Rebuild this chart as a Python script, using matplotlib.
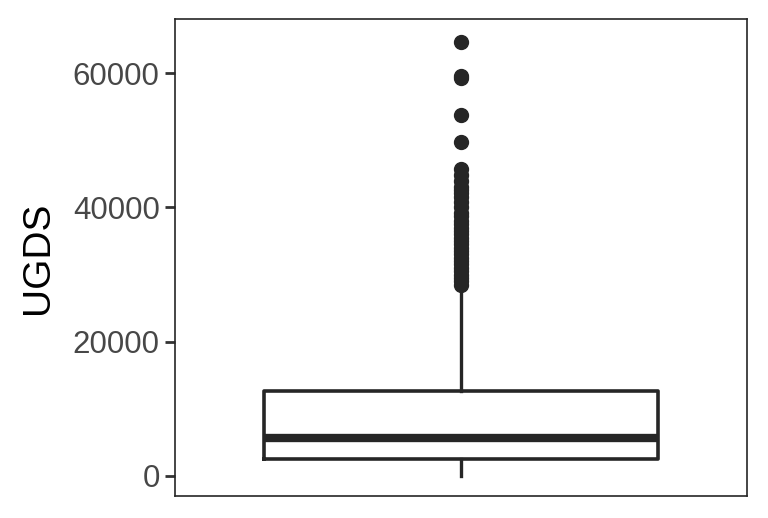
import matplotlib
matplotlib.use("Agg")
import matplotlib.pyplot as plt

# box statistics
q1 = 2530
median = 5660
q3 = 12660
whisker_low = 0
whisker_high = 28000
outliers = [64700, 59600, 59200, 53800, 49700, 45700, 44800, 44000, 43000,
            42600, 42200, 41500, 40800, 40000, 39200, 38700, 38000, 37500,
            37000, 36500, 36000, 35500, 35000, 34500, 34000, 33500, 33000,
            32500, 32000, 31500, 31000, 30500, 30000, 29500, 29000, 28400]
yticks = [0, 20000, 40000, 60000]

plt.rcParams['font.family'] = ['Liberation Sans', 'DejaVu Sans']

fig = plt.figure(figsize=(7.68, 5.18), dpi=100)
ax = fig.add_axes([175 / 768, 1 - 496 / 518, (747 - 175) / 768, (496 - 19) / 518])

stats = [dict(q1=q1, med=median, q3=q3, whislo=whisker_low, whishi=whisker_high,
              fliers=outliers)]
c = '#262626'
ax.bxp(stats, positions=[1], widths=0.75, showcaps=False,
       boxprops=dict(color=c, linewidth=2.6),
       whiskerprops=dict(color=c, linewidth=2.4),
       medianprops=dict(color=c, linewidth=6, solid_capstyle='butt'),
       flierprops=dict(marker='o', markerfacecolor=c, markeredgecolor=c,
                       markersize=10))

ax.set_xlim(1 - 0.5445, 1 + 0.5445)
ax.set_ylim(-2980, 68060)
ax.set_xticks([])
ax.set_yticks(yticks)
ax.set_yticklabels([str(v) for v in yticks])
ax.tick_params(axis='y', labelsize=22.5, labelcolor='#474747', color='#333333',
               length=7, width=2, pad=4)
ax.set_ylabel("UGDS", fontsize=28, color='black', labelpad=12)
for s in ax.spines.values():
    s.set_color('#262626')
    s.set_linewidth(1.2)

fig.savefig("out.png", dpi=100)
